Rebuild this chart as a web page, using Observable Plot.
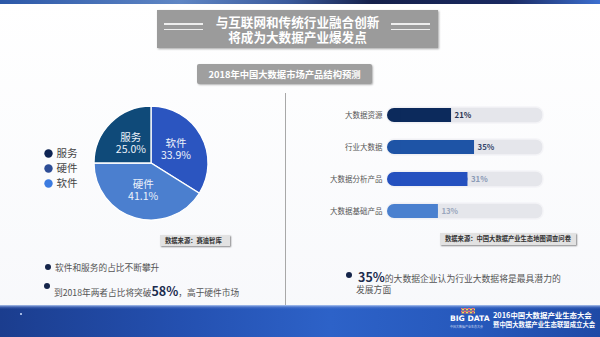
<!DOCTYPE html>
<html>
<head>
<meta charset="utf-8">
<script src="https://cdn.jsdelivr.net/npm/d3@7"></script>
<script src="https://cdn.jsdelivr.net/npm/@observablehq/plot@0.6"></script>
<style>
  html, body { margin: 0; padding: 0; background: #fbfbfd; }
  body { font-family: "Noto Sans CJK SC", "Noto Sans", sans-serif; }
  #page { position: relative; width: 600px; height: 337px; overflow: hidden;
    background: linear-gradient(180deg, #ffffff 0%, #f7f8fb 100%); }
  .abs { position: absolute; }
  #topband { left: 0; top: 0; width: 600px; height: 4px;
    background: linear-gradient(90deg, #2c58a8 0%, #5f86c4 30%, #3a5a9c 48%, #15204a 62%, #1a2a62 85%, #3c6fd0 100%); }
  #titlebox { left: 157px; top: 10px; width: 281px; height: 38px; background: #9b9b9b;
    box-shadow: 1px 1px 2px rgba(0,0,0,0.35); color: #fff; font-weight: bold;
    font-size: 12.6px; line-height: 14px; text-align: center; }
  #titlebox .t { position: absolute; left: 0; width: 100%; }
  .dl { position: absolute; width: 39px; height: 1.6px; background: #eeeeee; }
  #subbox { left: 197px; top: 64px; width: 175px; height: 20px; background: #9f9f9f;
    border-radius: 2px; box-shadow: 1px 1px 2px rgba(0,0,0,0.3); color: #fff; font-weight: bold;
    font-size: 9.3px; line-height: 20px; text-align: center; }
  #divider { left: 285px; top: 93px; width: 1px; height: 213px; background: #a8a8a8; }
  .src { background: #e2e2e2; box-shadow: 1px 1px 1.5px rgba(0,0,0,0.45); color: #333;
    font-weight: bold; font-size: 6.3px; line-height: 11px; padding-left: 5px; box-sizing: border-box; white-space: nowrap; }
  .note { color: #555; font-size: 8.7px; white-space: nowrap; }
  .bullet { position: absolute; width: 6px; height: 6px; border-radius: 50%; background: #15254a; }
  .big { font-weight: bold; font-size: 12.5px; color: #1c2c4e; }
  #bottomband { left: 0; top: 305px; width: 600px; height: 32px;
    background:
      linear-gradient(180deg, rgba(190,210,245,0.9) 0px, rgba(120,150,220,0.4) 2px, rgba(0,0,0,0) 4px),
      linear-gradient(90deg, #1b3d8e 0%, #2450b0 30%, #2d62c8 55%, #2658bb 80%, #1f4aa6 100%); }
  .white { color: #fff; font-weight: bold; white-space: nowrap; }
</style>
</head>
<body>
<div id="page">
  <div id="topband" class="abs"></div>

  <div id="titlebox" class="abs">
    <div class="dl" style="left:7px; top:13px;"></div>
    <div class="dl" style="left:7px; top:18.5px;"></div>
    <div class="dl" style="left:234px; top:13px;"></div>
    <div class="dl" style="left:234px; top:18.5px;"></div>
    <div class="t" style="top:5px;">与互联网和传统行业融合创新</div>
    <div class="t" style="top:20px;">将成为大数据产业爆发点</div>
  </div>

  <div id="subbox" class="abs">2018年中国大数据市场产品结构预测</div>

  <div id="legend" class="abs" style="left:38px; top:142px;"></div>
  <div id="pie" class="abs" style="left:94px; top:106px; width:114px; height:114px;"></div>
  <div class="abs src" style="left:160px; top:235px; width:70px; height:11px;">数据来源：赛迪智库</div>

  <div id="divider" class="abs"></div>

  <div id="bars" class="abs" style="left:300px; top:97px;"></div>
  <div class="abs src" style="left:440px; top:233px; width:136px; height:12px; line-height:12px;">数据来源：中国大数据产业生态地图调查问卷</div>

  <div class="bullet" style="left:45px; top:264px;"></div>
  <div class="abs note" style="left:55px; top:261px;">软件和服务的占比不断攀升</div>
  <div class="bullet" style="left:44px; top:283px;"></div>
  <div class="abs note" style="left:54px; top:281px;">到2018年两者占比将突破<span class="big">58%</span>，高于硬件市场</div>

  <div class="bullet" style="left:346px; top:272px;"></div>
  <div class="abs note" style="left:358px; top:267px; color:#555; font-size:8.8px;"><span class="big">35%</span>的大数据企业认为行业大数据将是最具潜力的</div>
  <div class="abs note" style="left:356px; top:283px; font-size:8.8px;">发展方面</div>

  <div id="bottomband" class="abs">
    <div class="abs" style="left:20px; top:8px; width:2px; height:2px; background:#cfe0ff; border-radius:50%;"></div>
    <div class="abs" style="left:461px; top:3px; width:14px; height:6px;
      background: radial-gradient(circle, #ffd34d 0 1px, transparent 1.2px) 0 0/4px 3px, radial-gradient(circle, #ff6a6a 0 1px, transparent 1.2px) 2px 2px/4px 3px;"></div>
    <div class="abs white" style="left:450px; top:9px; font-size:7.6px; font-family:'DejaVu Sans', sans-serif;">BIG DATA</div>
    <div class="abs" style="left:450px; top:20px; font-size:3px; color:#cdd8f0; white-space:nowrap;">中国大数据产业生态大会</div>
    <div class="abs white" style="left:493px; top:4px; font-size:7.4px;">2016中国大数据产业生态大会</div>
    <div class="abs white" style="left:493px; top:15px; font-size:6.4px;">暨中国大数据产业生态联盟成立大会</div>
  </div>
</div>

<script>
// ---- Pie data: 2018 China big data market product structure ----
const pieCats = ["软件", "硬件", "服务"];
const pieValues = [33.9, 41.1, 25.0];
const pieColors = ["#2b55c0", "#4b7fcf", "#0f4a79"];

// ---- Legend ----
const legendCats = ["服务", "硬件", "软件"];
const legendColors = ["#0e2453", "#2d4d96", "#3b7be0"];

// ---- Bar data ----
const barCats = ["大数据资源", "行业大数据", "大数据分析产品", "大数据基础产品"];
const barValues = [21, 35, 31, 13];
const barColors = ["#0c2a5c", "#1e54a6", "#2450bf", "#4a80cf"];
const barLabelColors = ["#2a3452", "#35466b", "#8a9ab6", "#9aa6bd"];
const barDomain = [-18, 77];

const FONT = '"Noto Sans CJK SC", "Noto Sans", sans-serif';

// Pie (function mark drawn with d3.pie / d3.arc, coloured through Plot's color scale)
const pieData = pieCats.map((name, i) => ({name, value: pieValues[i]}));
function pieMark(index, scales, values, dimensions) {
  const width = dimensions.width, height = dimensions.height;
  const r = Math.min(width, height) / 2;
  const colorOf = (scales && scales.color) ? scales.color : d3.scaleOrdinal(pieCats, pieColors);
  const arcs = d3.pie().sort(null).value(d => d.value)(pieData);
  const arc = d3.arc().innerRadius(0).outerRadius(r);
  const lab = d3.arc().innerRadius(r * 0.5).outerRadius(r * 0.5);
  const g = d3.create("svg:g").attr("transform", `translate(${width / 2},${height / 2})`);
  g.selectAll("path").data(arcs).join("path")
    .attr("d", arc)
    .attr("fill", a => colorOf(a.data.name))
    .attr("stroke", "#ffffff")
    .attr("stroke-width", 1.3);
  const t = g.selectAll("text").data(arcs).join("text")
    .attr("transform", a => `translate(${lab.centroid(a)})`)
    .attr("text-anchor", "middle")
    .attr("fill", "#eef3fb")
    .attr("font-size", 10.5)
    .attr("font-family", FONT);
  t.append("tspan").attr("x", 0).attr("y", -2.3).text(a => a.data.name);
  t.append("tspan").attr("x", 0).attr("y", 9.9).text(a => a.data.value.toFixed(1) + "%");
  return g.node();
}
const pie = Plot.plot({
  width: 114, height: 114, margin: 0,
  style: {background: "transparent", overflow: "visible"},
  x: {axis: null}, y: {axis: null},
  color: {type: "ordinal", domain: pieCats, range: pieColors},
  marks: [
    Plot.dot(pieData, {fill: "name", r: 0}),
    pieMark
  ]
});
document.getElementById("pie").append(pie);

// Legend
const legend = Plot.plot({
  width: 60, height: 50, margin: 0,
  style: {background: "transparent", overflow: "visible", fontFamily: FONT},
  y: {type: "point", domain: legendCats, range: [10, 41], padding: 0, axis: null},
  color: {domain: legendCats, range: legendColors},
  marks: [
    Plot.dot(legendCats, {y: d => d, fill: d => d, r: 4.2, frameAnchor: "left", dx: 10}),
    Plot.text(legendCats, {y: d => d, text: d => d, frameAnchor: "left", dx: 18, textAnchor: "start", fontSize: 10.5, fill: "#444"})
  ]
});
document.getElementById("legend").append(legend);

// Bars
const barData = barCats.map((name, i) => ({name, value: barValues[i], color: barColors[i], lc: barLabelColors[i]}));
const bars = Plot.plot({
  width: 290, height: 132,
  marginLeft: 87, marginRight: 47, marginTop: 0, marginBottom: 0,
  style: {background: "transparent", overflow: "visible", fontFamily: FONT},
  x: {domain: barDomain, axis: null},
  y: {type: "band", domain: barCats, range: [0.7, 131.3], paddingInner: 0.57, paddingOuter: 0.285, axis: null},
  marks: [
    Plot.barX(barData, {y: "name", x1: () => barDomain[0], x2: () => barDomain[1], fill: "#e5e6eb", stroke: "#f4f4f7", strokeWidth: 1.5, rx: 7, insetTop: -1, insetBottom: -1}),
    Plot.barX(barData, {y: "name", x1: () => barDomain[0], x2: "value", fill: d => d.color, rx: 7}),
    Plot.barX(barData, {y: "name", x1: d => barDomain[0] + 8, x2: "value", fill: d => d.color}),
    Plot.text(barData, {y: "name", x: "value", text: d => d.value + "%", dx: 3, textAnchor: "start", fontSize: 7.8, fontWeight: "bold", fill: d => d.lc}),
    Plot.axisY({tickSize: 0, tickPadding: 5, fontSize: 7.5, color: "#555", label: null})
  ]
});
document.getElementById("bars").append(bars);
</script>
</body>
</html>
